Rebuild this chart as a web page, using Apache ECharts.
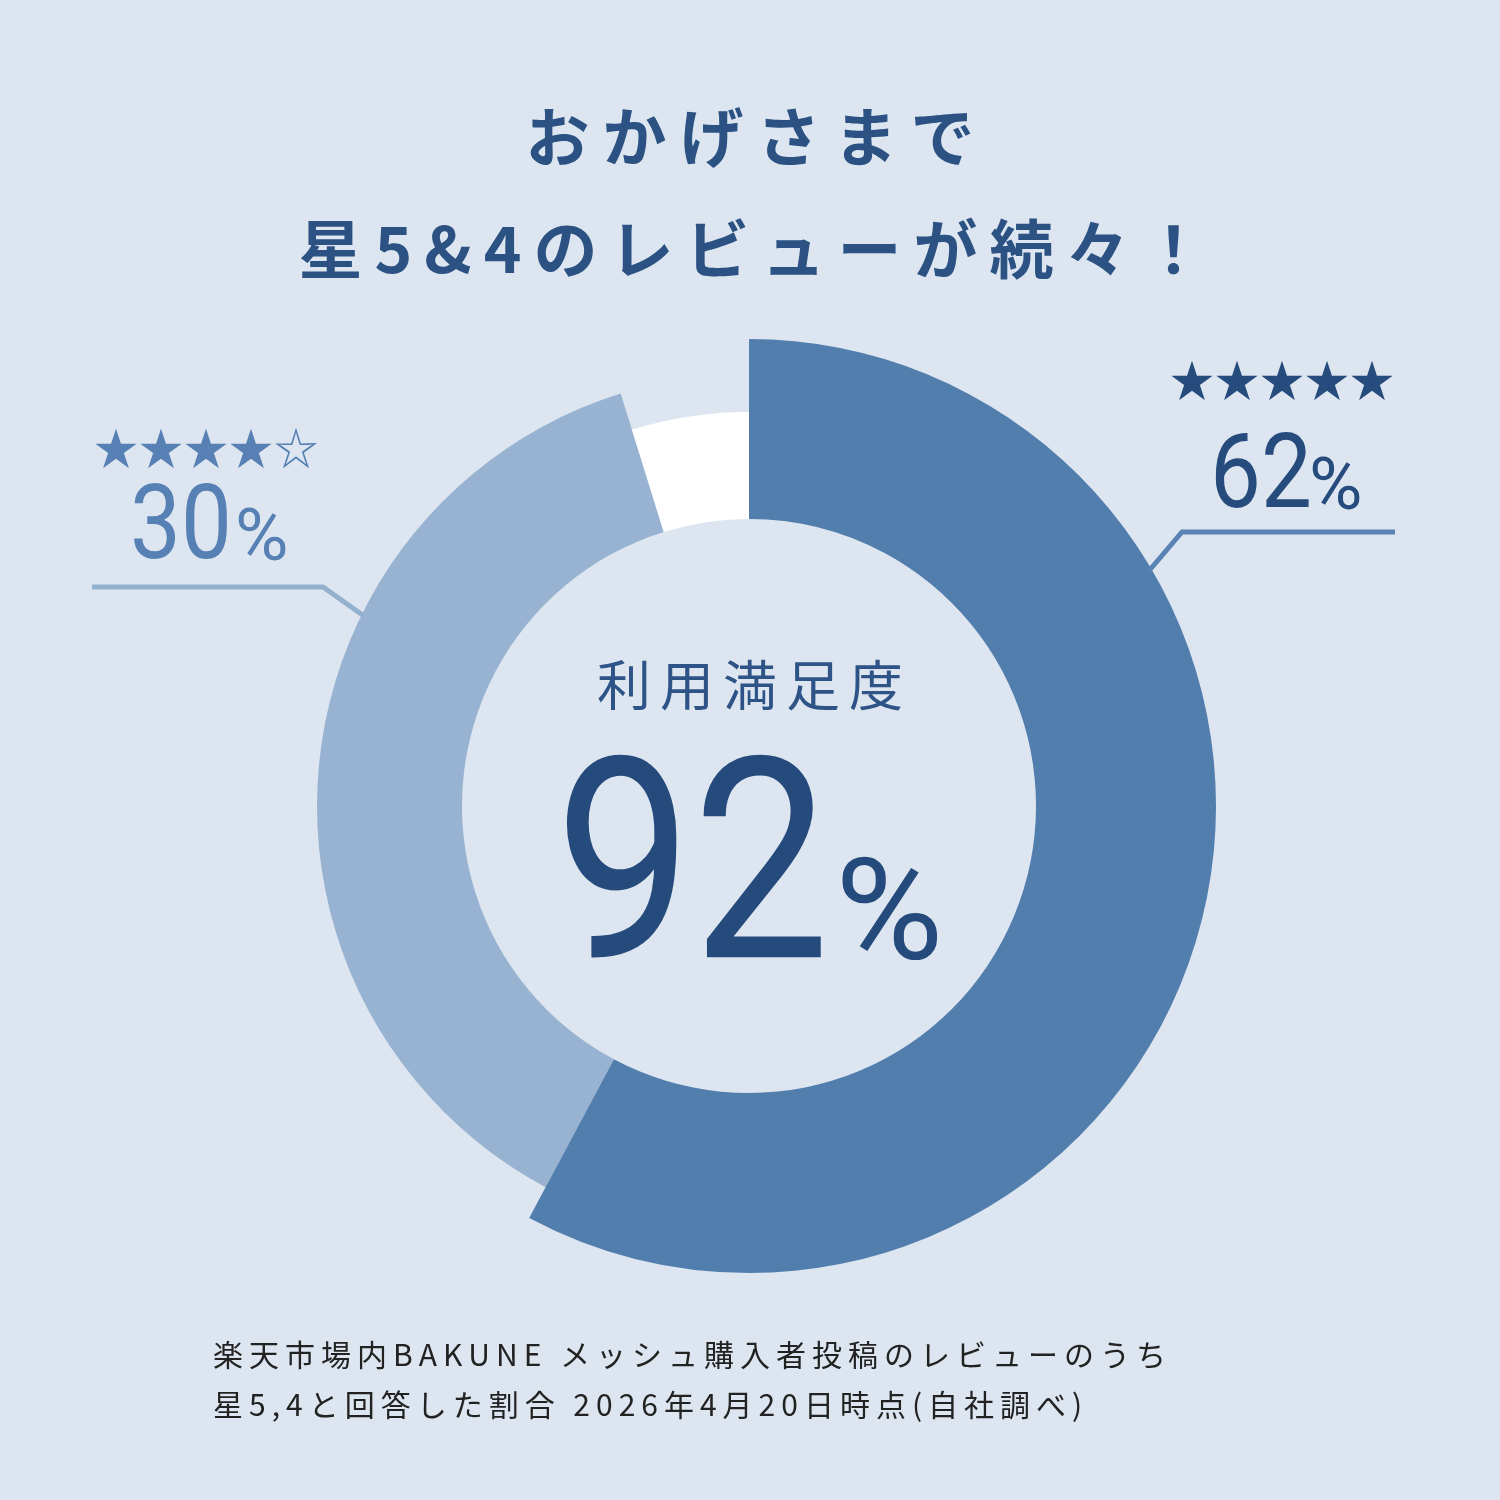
<!DOCTYPE html>
<html><head><meta charset="utf-8">
<script src="https://cdn.jsdelivr.net/npm/echarts@6/dist/echarts.min.js"></script>
<style>html,body{margin:0;padding:0;background:#dde6f0}#c{width:1500px;height:1500px}</style>
</head><body><div id="c"></div>
<script>
// ---- data ----
const categories = ['星5', '星4', 'その他'];
const starLabels = ['★★★★★', '★★★★☆'];
const labelPercents = ['62', '30'];
const sliceShares = [57.8, 37.4, 4.8];   // angular shares as drawn in the picture
const satisfaction = '92';
const titleLines = ['おかげさまで', '星5&4のレビューが続々！'];
const centerLabel = '利用満足度';
const footnoteLines = ['楽天市場内BAKUNE メッシュ購入者投稿のレビューのうち', '星5,4と回答した割合 2026年4月20日時点(自社調べ)'];

// ---- styles ----
const sliceColors = ['#527eae', '#98b3d1', '#ffffff'];
const outerRadii = [467, 432, 394];
const JP = '"Noto Sans CJK JP", "Noto Sans CJK SC", sans-serif';
const NUM = 'Roboto, "Noto Sans", sans-serif';

const mctx = document.createElement('canvas').getContext('2d');
function spaced(str, o) {
  const font = `${o.weight || 'normal'} ${o.size}px ${o.family}`;
  mctx.font = font;
  const chars = [...str];
  const widths = chars.map(ch => mctx.measureText(ch).width);
  const total = widths.reduce((a, b) => a + b, 0) + o.spacing * (chars.length - 1);
  let x = o.align === 'center' ? o.x - total / 2 : o.x;
  return chars.map((ch, i) => {
    const el = {
      type: 'text', x: x, y: o.y, silent: true, z: 20,
      style: { text: ch, font: font, fill: o.color, align: 'left', textAlign: 'left', verticalAlign: 'middle', textVerticalAlign: 'middle' }
    };
    x += widths[i] + o.spacing;
    return el;
  });
}
function txt(str, x, y, size, family, color, scaleX, weight) {
  return {
    type: 'text', x: x, y: y, scaleX: scaleX || 1, silent: true, z: 20,
    style: { text: str, font: `${weight || 'normal'} ${size}px ${family}`, fill: color, align: 'left', textAlign: 'left', verticalAlign: 'middle', textVerticalAlign: 'middle' }
  };
}

const graphics = [].concat(
  spaced(titleLines[0], { x: 750, y: 137, align: 'center', size: 64, weight: 'bold', family: JP, spacing: 13, color: '#2b5283' }),
  spaced(titleLines[1], { x: 752, y: 249, align: 'center', size: 64, weight: 'bold', family: JP, spacing: 12, color: '#2b5283' }),
  spaced(centerLabel, { x: 750, y: 685, align: 'center', size: 54, family: JP, spacing: 9, color: '#2e5487' }),
  [txt(satisfaction, 555, 887, 281, NUM, '#254a7c', 0.87), txt('%', 835, 924, 141, NUM, '#254a7c', 1.05)],
  spaced(starLabels[0], { x: 1282, y: 380, align: 'center', size: 44, family: JP, spacing: 1, color: '#264b7d' }),
  [txt(labelPercents[0], 1210, 481, 103, NUM, '#264b7d', 0.88), txt('%', 1309, 491, 73, NUM, '#264b7d', 1)],
  spaced(starLabels[1], { x: 206, y: 448, align: 'center', size: 44, family: JP, spacing: 1, color: '#5780b4' }),
  [txt(labelPercents[1], 130, 532, 103, NUM, '#5780b4', 0.88), txt('%', 235, 542, 73, NUM, '#5780b4', 1)],
  [
    { type: 'polyline', silent: true, z: 10, shape: { points: [[1395, 532], [1182, 532], [1148, 572]] }, style: { stroke: '#5a83b5', lineWidth: 5, fill: null } },
    { type: 'polyline', silent: true, z: 10, shape: { points: [[92, 587], [323, 587], [364, 616]] }, style: { stroke: '#94b0cf', lineWidth: 5, fill: null } }
  ],
  spaced(footnoteLines[0], { x: 213, y: 1355, align: 'left', size: 30, family: JP, spacing: 6, color: '#222222' }),
  spaced(footnoteLines[1], { x: 213, y: 1405, align: 'left', size: 30, family: JP, spacing: 6, color: '#222222' })
);

const chart = echarts.init(document.getElementById('c'), null, { renderer: 'canvas', width: 1500, height: 1500 });
chart.setOption({
  animation: false,
  backgroundColor: '#dde6f0',
  series: sliceColors.map((c, k) => ({
    type: 'pie', center: [749, 806], radius: [287, outerRadii[k]],
    startAngle: 90, clockwise: true, silent: true, z: k === 0 ? 3 : 2,
    label: { show: false }, labelLine: { show: false }, emphasis: { disabled: true },
    itemStyle: { borderWidth: 0 },
    data: sliceShares.map((v, i) => ({ value: v, name: categories[i], itemStyle: { color: i === k ? c : 'rgba(0,0,0,0)', borderWidth: 0 } }))
  })),
  graphic: graphics
});
</script></body></html>
